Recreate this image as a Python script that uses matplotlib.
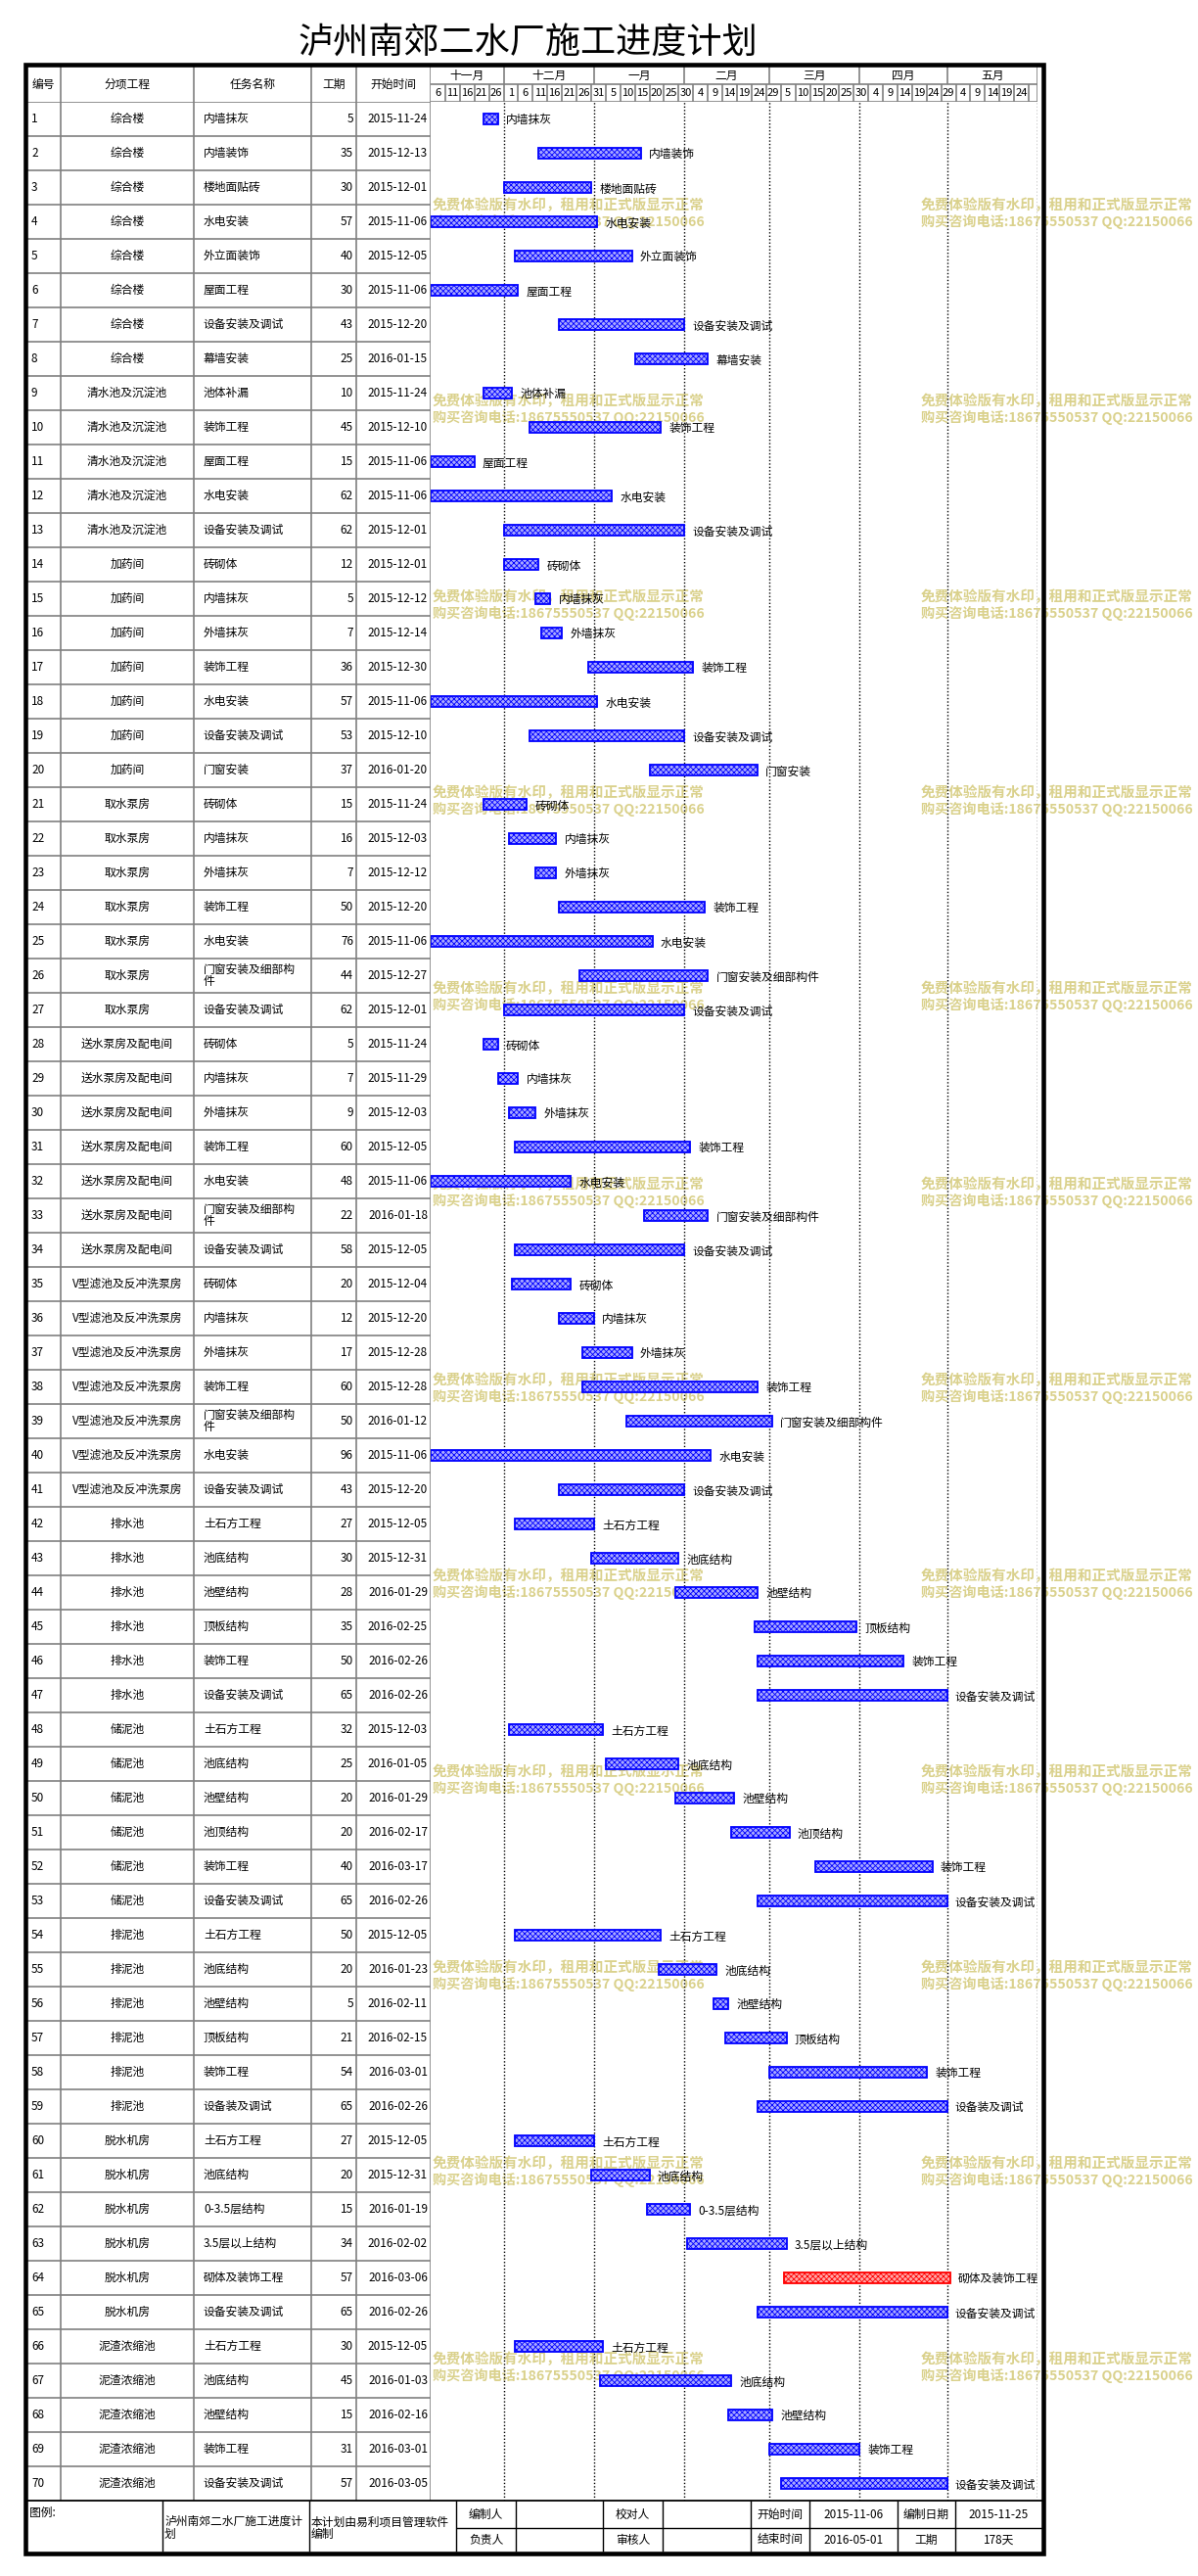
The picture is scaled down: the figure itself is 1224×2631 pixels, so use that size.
import datetime as dt
import numpy as np
import matplotlib
matplotlib.use('Agg')
import matplotlib.pyplot as plt
import matplotlib.dates as mdates
from matplotlib.patches import Rectangle

plt.rcParams['font.family'] = ['Noto Sans CJK SC', 'DejaVu Sans']
plt.rcParams['hatch.linewidth'] = 0.6

# ---- data ----
groups = (['综合楼'] * 8 + ['清水池及沉淀池'] * 5 + ['加药间'] * 7 + ['取水泵房'] * 7
          + ['送水泵房及配电间'] * 7 + ['V型滤池及反冲洗泵房'] * 7 + ['排水池'] * 6
          + ['储泥池'] * 6 + ['排泥池'] * 6 + ['脱水机房'] * 6 + ['泥渣浓缩池'] * 5)

tasks = ['内墙抹灰', '内墙装饰', '楼地面贴砖', '水电安装', '外立面装饰', '屋面工程', '设备安装及调试', '幕墙安装',
         '池体补漏', '装饰工程', '屋面工程', '水电安装', '设备安装及调试',
         '砖砌体', '内墙抹灰', '外墙抹灰', '装饰工程', '水电安装', '设备安装及调试', '门窗安装',
         '砖砌体', '内墙抹灰', '外墙抹灰', '装饰工程', '水电安装', '门窗安装及细部构件', '设备安装及调试',
         '砖砌体', '内墙抹灰', '外墙抹灰', '装饰工程', '水电安装', '门窗安装及细部构件', '设备安装及调试',
         '砖砌体', '内墙抹灰', '外墙抹灰', '装饰工程', '门窗安装及细部构件', '水电安装', '设备安装及调试',
         '土石方工程', '池底结构', '池壁结构', '顶板结构', '装饰工程', '设备安装及调试',
         '土石方工程', '池底结构', '池壁结构', '池顶结构', '装饰工程', '设备安装及调试',
         '土石方工程', '池底结构', '池壁结构', '顶板结构', '装饰工程', '设备装及调试',
         '土石方工程', '池底结构', '0-3.5层结构', '3.5层以上结构', '砌体及装饰工程', '设备安装及调试',
         '土石方工程', '池底结构', '池壁结构', '装饰工程', '设备安装及调试']

durations = [5, 35, 30, 57, 40, 30, 43, 25,
             10, 45, 15, 62, 62,
             12, 5, 7, 36, 57, 53, 37,
             15, 16, 7, 50, 76, 44, 62,
             5, 7, 9, 60, 48, 22, 58,
             20, 12, 17, 60, 50, 96, 43,
             27, 30, 28, 35, 50, 65,
             32, 25, 20, 20, 40, 65,
             50, 20, 5, 21, 54, 65,
             27, 20, 15, 34, 57, 65,
             30, 45, 15, 31, 57]

starts = ['2015-11-24', '2015-12-13', '2015-12-01', '2015-11-06', '2015-12-05', '2015-11-06', '2015-12-20', '2016-01-15',
          '2015-11-24', '2015-12-10', '2015-11-06', '2015-11-06', '2015-12-01',
          '2015-12-01', '2015-12-12', '2015-12-14', '2015-12-30', '2015-11-06', '2015-12-10', '2016-01-20',
          '2015-11-24', '2015-12-03', '2015-12-12', '2015-12-20', '2015-11-06', '2015-12-27', '2015-12-01',
          '2015-11-24', '2015-11-29', '2015-12-03', '2015-12-05', '2015-11-06', '2016-01-18', '2015-12-05',
          '2015-12-04', '2015-12-20', '2015-12-28', '2015-12-28', '2016-01-12', '2015-11-06', '2015-12-20',
          '2015-12-05', '2015-12-31', '2016-01-29', '2016-02-25', '2016-02-26', '2016-02-26',
          '2015-12-03', '2016-01-05', '2016-01-29', '2016-02-17', '2016-03-17', '2016-02-26',
          '2015-12-05', '2016-01-23', '2016-02-11', '2016-02-15', '2016-03-01', '2016-02-26',
          '2015-12-05', '2015-12-31', '2016-01-19', '2016-02-02', '2016-03-06', '2016-02-26',
          '2015-12-05', '2016-01-03', '2016-02-16', '2016-03-01', '2016-03-05']

critical_ids = [64]

month_names = ['十一月', '十二月', '一月', '二月', '三月', '四月', '五月']
month_starts = ['2015-11-01', '2015-12-01', '2016-01-01', '2016-02-01',
                '2016-03-01', '2016-04-01', '2016-05-01', '2016-06-01']
view_start = '2015-11-06'
view_end = '2016-06-01'
n_day_cells = 41

col_titles = ['编号', '分项工程', '任务名称', '工期', '开始时间']

foot_row1 = ['编制人', '', '校对人', '', '开始时间', '2015-11-06', '编制日期', '2015-11-25']
foot_row2 = ['负责人', '', '审核人', '', '结束时间', '2016-05-01', '工期', '178天']
foot_notes = ['图例:', '泸州南郊二水厂施工进度计\n划', '本计划由易利项目管理软件\n编制']

title = '泸州南郊二水厂施工进度计划'
wm_line1 = '免费体验版有水印，租用和正式版显示正常'
wm_line2 = '购买咨询电话:18675550537 QQ:22150066'

# ---- layout (pixels) ----
W, H = 1224, 2631
col_edges = [27, 62, 198, 318, 364, 440]
GR = 1060
HT, HB, BB = 68, 104, 2554
foot_edges = [27, 166, 316, 466, 527, 616, 677, 767, 827, 917, 976, 1065]
FY0, FY1, FY2 = 2554, 2582, 2606
GRID = '#808080'
FS = 8.5
n = len(tasks)


def box(x0, y0, x1, y1):
    return [x0 / W, 1 - y1 / H, (x1 - x0) / W, (y1 - y0) / H]


def d(s):
    return mdates.date2num(dt.datetime.strptime(s, '%Y-%m-%d'))


fig = plt.figure(figsize=(W / 100, H / 100), dpi=100)

# background layer: title + watermark
ax_bg = fig.add_axes([0, 0, 1, 1])
ax_bg.set_xlim(0, W)
ax_bg.set_ylim(H, 0)
ax_bg.set_axis_off()
ax_bg.text(539, 44, title, fontsize=26, ha='center', va='center', fontweight='medium')
for k in range(12):
    y = 209 + 200 * k
    for x in (442, 941):
        ax_bg.text(x, y, wm_line1, fontsize=10.5, color='#DAD18C', fontweight='bold',
                   ha='left', va='center')
        ax_bg.text(x, y + 18, wm_line2, fontsize=10.2, color='#DAD18C', fontweight='bold',
                   ha='left', va='center')

# table body
ax_t = fig.add_axes(box(col_edges[0], HB, col_edges[-1], BB))
ax_t.patch.set_alpha(0)
ax_t.set_xlim(col_edges[0], col_edges[-1])
ax_t.set_ylim(n + 0.5, 0.5)
ax_t.set_axis_off()
ax_t.hlines(np.arange(0.5, n + 0.5), col_edges[0], col_edges[-1], color=GRID, lw=1.2)
ax_t.vlines(col_edges[1:], 0.5, n + 0.5, color=GRID, lw=1.2)
for i in range(n):
    y = i + 1
    ax_t.text(col_edges[0] + 5, y, str(i + 1), fontsize=FS, ha='left', va='center')
    ax_t.text((col_edges[1] + col_edges[2]) / 2, y, groups[i], fontsize=FS, ha='center', va='center')
    name = tasks[i]
    if len(name) > 8:
        name = name[:8] + '\n' + name[8:]
    ax_t.text(col_edges[2] + 10, y, name, fontsize=FS, ha='left', va='center', linespacing=0.95)
    ax_t.text(col_edges[4] - 3, y, str(durations[i]), fontsize=FS, ha='right', va='center')
    ax_t.text(col_edges[5] - 3, y, starts[i], fontsize=FS, ha='right', va='center')

# table header
ax_th = fig.add_axes(box(col_edges[0], HT, col_edges[-1], HB))
ax_th.patch.set_alpha(0)
ax_th.set_xlim(col_edges[0], col_edges[-1])
ax_th.set_ylim(1, 0)
ax_th.set_axis_off()
ax_th.vlines(col_edges[1:], 0, 1, color=GRID, lw=1.2)
for j, t in enumerate(col_titles):
    ax_th.text((col_edges[j] + col_edges[j + 1]) / 2, 0.5, t, fontsize=FS, ha='center', va='center')

# gantt body
x0, x1 = d(view_start), d(view_end)
ax_g = fig.add_axes(box(col_edges[-1], HB, GR, BB))
ax_g.patch.set_alpha(0)
ax_g.set_xlim(x0, x1)
ax_g.set_ylim(n + 0.5, 0.5)
ax_g.set_axis_off()
for m in month_starts[1:]:
    ax_g.axvline(d(m), color='black', lw=1, ls=(0, (1, 1.5)), zorder=1)
for i in range(n):
    crit = (i + 1) in critical_ids
    edge = '#FF0000' if crit else '#0000FF'
    face = '#FFA8A8' if crit else '#A8A8FF'
    left = d(starts[i])
    ax_g.barh(i + 1, durations[i], left=left, height=0.29, facecolor=face,
              edgecolor=edge, hatch='xxxxxx', lw=1.3, zorder=3)
    ax_g.annotate(tasks[i], (left + durations[i], i + 1), xytext=(6, -1),
                  textcoords='offset points', fontsize=FS, ha='left', va='center', zorder=4)

# gantt header
ax_gh = fig.add_axes(box(col_edges[-1], HT, GR, HB))
ax_gh.patch.set_alpha(0)
ax_gh.set_xlim(x0, x1)
ax_gh.set_ylim(2, 0)
ax_gh.set_axis_off()
ax_gh.hlines([1, 2], x0, x1, color=GRID, lw=1.2)
for j, mname in enumerate(month_names):
    a = max(d(month_starts[j]), x0)
    b = d(month_starts[j + 1])
    ax_gh.vlines(b, 0, 1, color=GRID, lw=1.2)
    ax_gh.text((a + b) / 2, 0.5, mname, fontsize=FS, ha='center', va='center')
for c in range(n_day_cells):
    a = x0 + 5 * c
    day = mdates.num2date(a).day
    ax_gh.text(a + 2.5, 1.5, str(day), fontsize=FS - 0.5, ha='center', va='center')
    ax_gh.vlines(a + 5, 1, 2, color=GRID, lw=1.2)
ax_gh.vlines(x1, 1, 2, color=GRID, lw=1.2)

# top layer: footer + thick border
ax_top = fig.add_axes([0, 0, 1, 1])
ax_top.patch.set_alpha(0)
ax_top.set_xlim(0, W)
ax_top.set_ylim(H, 0)
ax_top.set_axis_off()
ax_top.hlines(FY0, foot_edges[0], foot_edges[-1], color='black', lw=1.3)
ax_top.hlines(FY1, foot_edges[3], foot_edges[-1], color='black', lw=1)
ax_top.vlines(foot_edges[1:-1], FY0, FY2, color='black', lw=1)
ax_top.text(foot_edges[0] + 3, FY0 + 12, foot_notes[0], fontsize=FS, ha='left', va='center')
ax_top.text(foot_edges[1] + 2, (FY0 + FY2) / 2 + 2, foot_notes[1], fontsize=FS, ha='left',
            va='center', linespacing=0.95)
ax_top.text(foot_edges[2] + 2, (FY0 + FY2) / 2 + 2, foot_notes[2], fontsize=FS, ha='left',
            va='center', linespacing=0.95)
for j in range(len(foot_row1)):
    cx = (foot_edges[3 + j] + foot_edges[4 + j]) / 2
    ax_top.text(cx, (FY0 + FY1) / 2, foot_row1[j], fontsize=FS, ha='center', va='center')
    ax_top.text(cx, (FY1 + FY2) / 2, foot_row2[j], fontsize=FS, ha='center', va='center')
ax_top.add_patch(Rectangle((25.5, 66), 1040, 2541.5, fill=False, ec='black', lw=3.3))

fig.savefig('out.png', dpi=100, facecolor='white')
